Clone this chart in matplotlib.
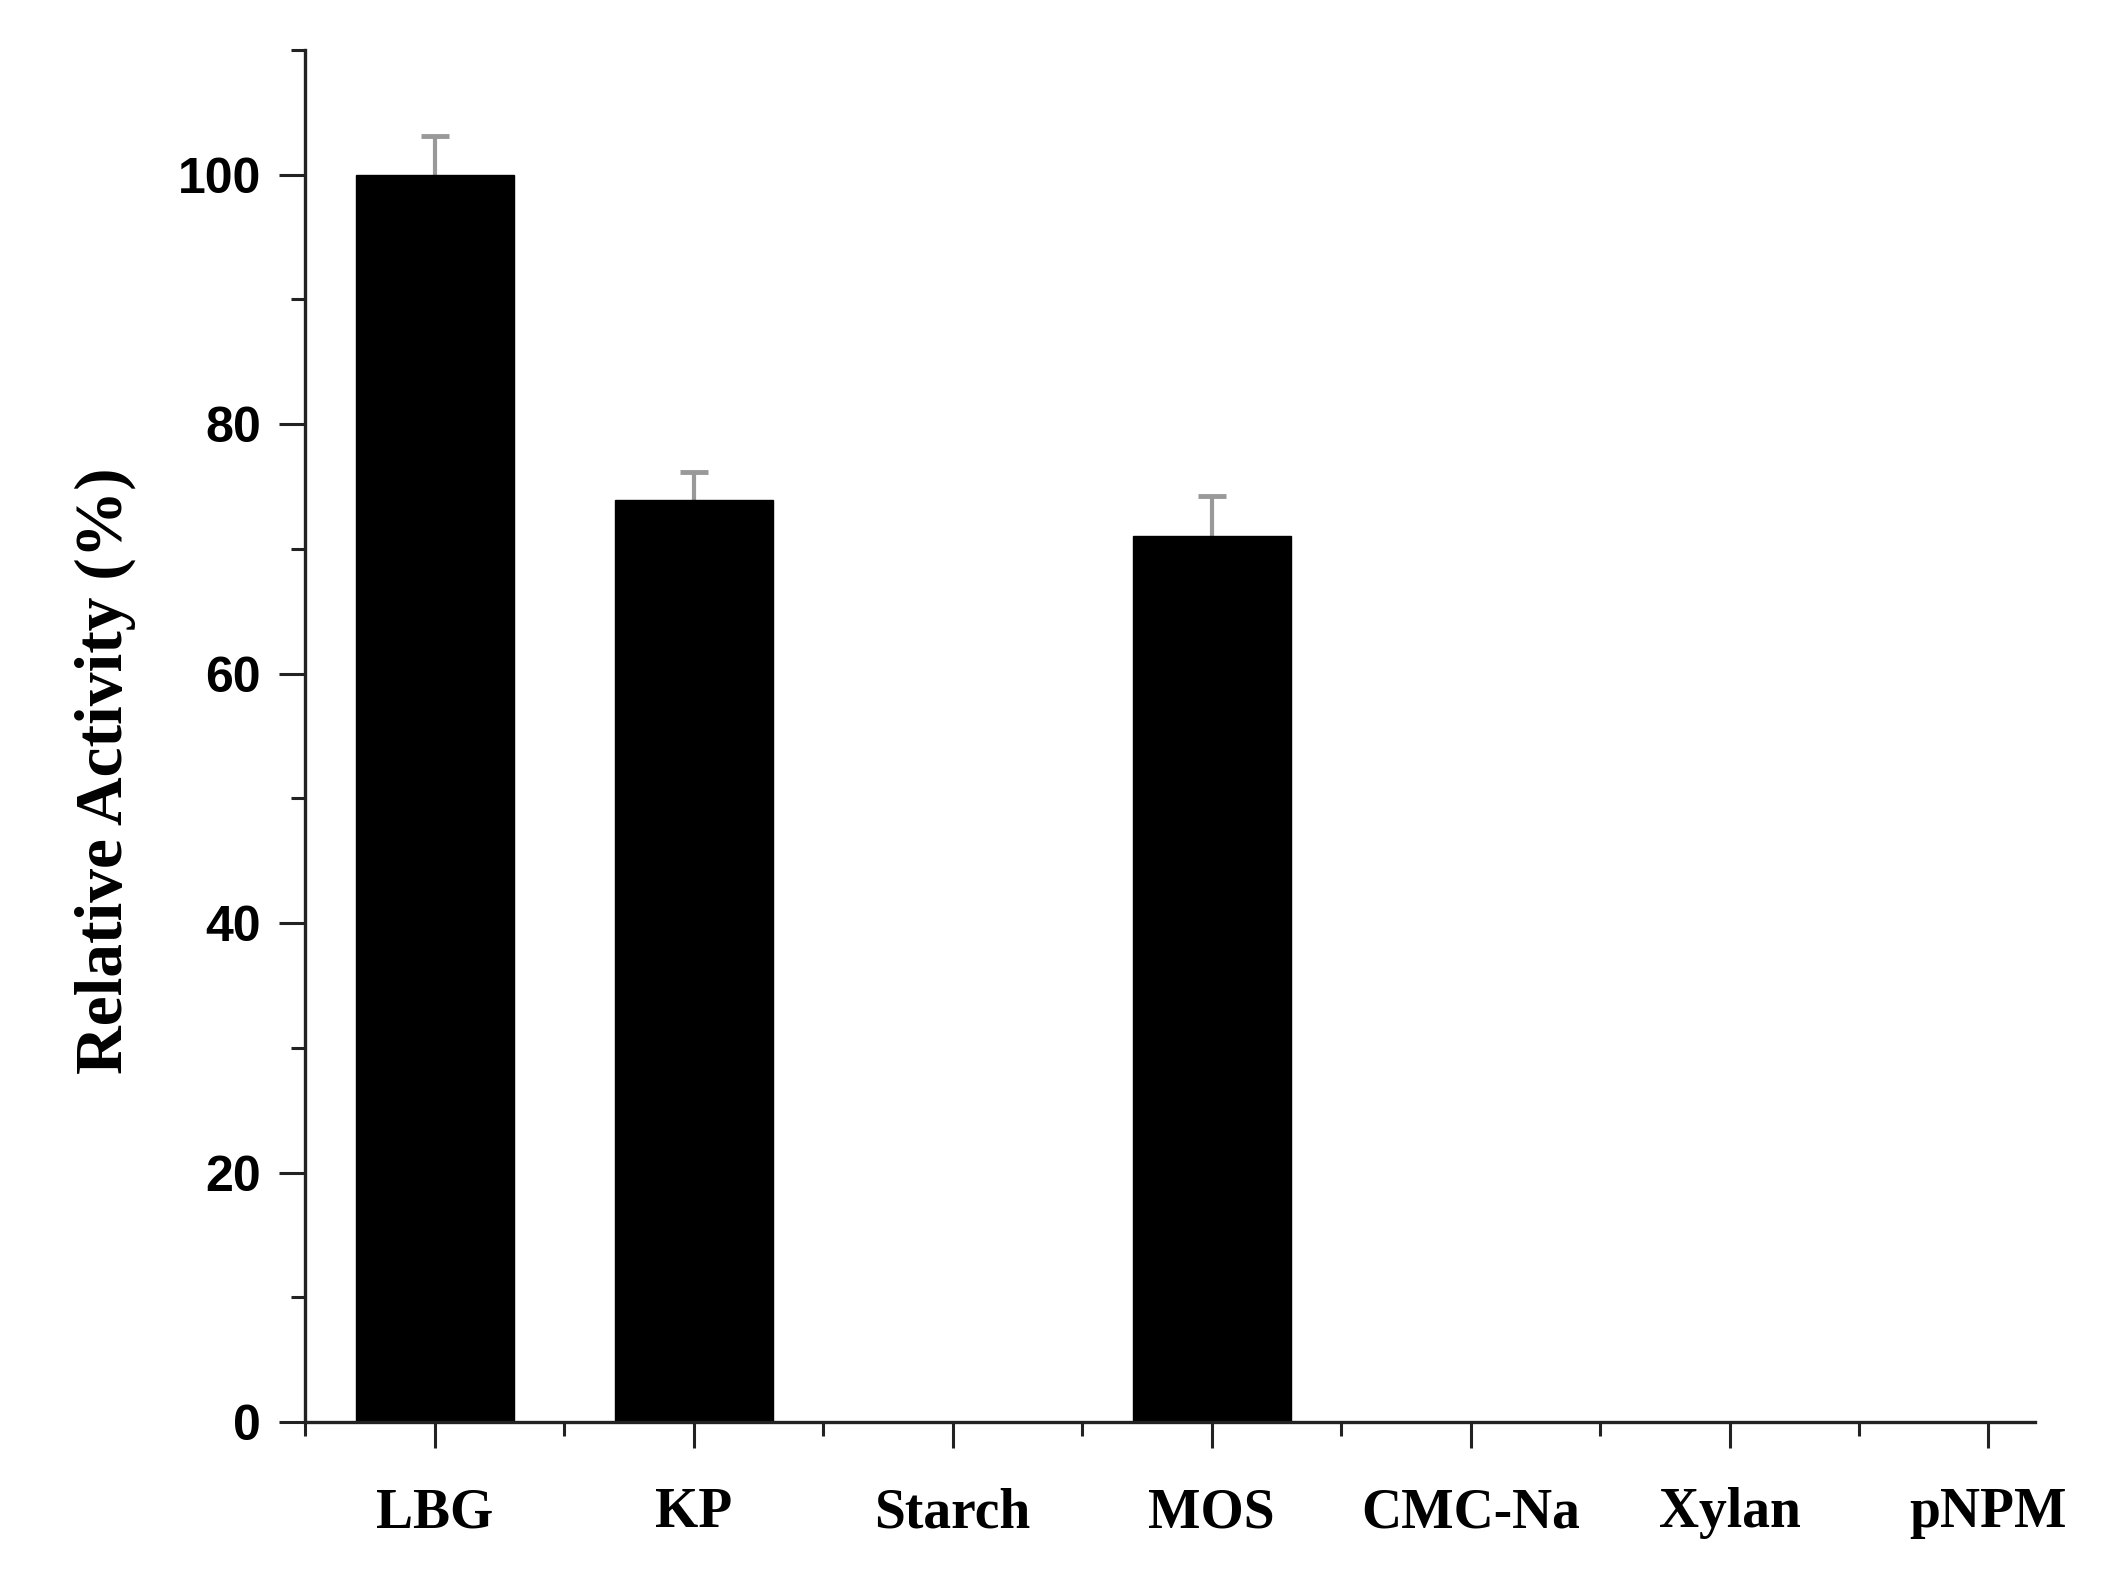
import matplotlib
matplotlib.use("Agg")
import matplotlib.pyplot as plt
from matplotlib.ticker import MultipleLocator
import numpy as np

# Datos del gráfico
substrates = ["LBG", "KP", "Starch", "MOS", "CMC-Na", "Xylan", "pNPM"]
activity = [100.0, 73.9, 0.0, 71.0, 0.0, 0.0, 0.0]
errors = [3.1, 2.3, 0.0, 3.2, 0.0, 0.0, 0.0]

fig = plt.figure(figsize=[21.23, 15.86], dpi=100)
ax = fig.add_axes([0.1437, 0.1034, 0.8149, 0.8651])

x = np.arange(len(substrates))
ax.bar(x, activity, width=0.61, color="black", edgecolor="black", zorder=2)

# Barras de error solo hacia arriba (sin tapa inferior)
act = np.array(activity)
err = np.array(errors)
mask = err > 0
ax.vlines(x[mask], act[mask], act[mask] + err[mask], colors="#999999",
          linewidth=3, zorder=1)
ax.scatter(x[mask], act[mask] + err[mask], marker="_", s=420,
           color="#999999", linewidths=3.5, zorder=1)

ax.set_xlim(-0.5, 6.18)
ax.set_ylim(0, 110)

ax.spines["top"].set_visible(False)
ax.spines["right"].set_visible(False)
for side in ["left", "bottom"]:
    ax.spines[side].set_linewidth(2.4)
    ax.spines[side].set_color("#222222")

ax.yaxis.set_major_locator(MultipleLocator(20))
ax.yaxis.set_minor_locator(MultipleLocator(10))
ax.set_xticks(x)
ax.set_xticks(np.arange(-0.5, 6.0, 1.0), minor=True)

ax.tick_params(axis="both", which="major", direction="out", length=19,
               width=2.2, color="#222222")
ax.tick_params(axis="both", which="minor", direction="out", length=10,
               width=2.2, color="#222222")
ax.tick_params(axis="y", which="major", pad=13)
ax.tick_params(axis="x", which="major", pad=28)

ax.set_xticklabels(substrates, fontfamily="Liberation Serif",
                   fontweight="bold", fontsize=40)
for lab in ax.get_yticklabels():
    lab.set_fontfamily("Liberation Sans")
    lab.set_fontweight("bold")
    lab.set_fontsize(36)

ax.set_ylabel("Relative Activity (%)", fontfamily="Liberation Serif",
              fontweight="bold", fontsize=48.5)
ax.yaxis.set_label_coords(-0.098, 0.475)

fig.savefig("out.png", dpi=100, facecolor="white")
